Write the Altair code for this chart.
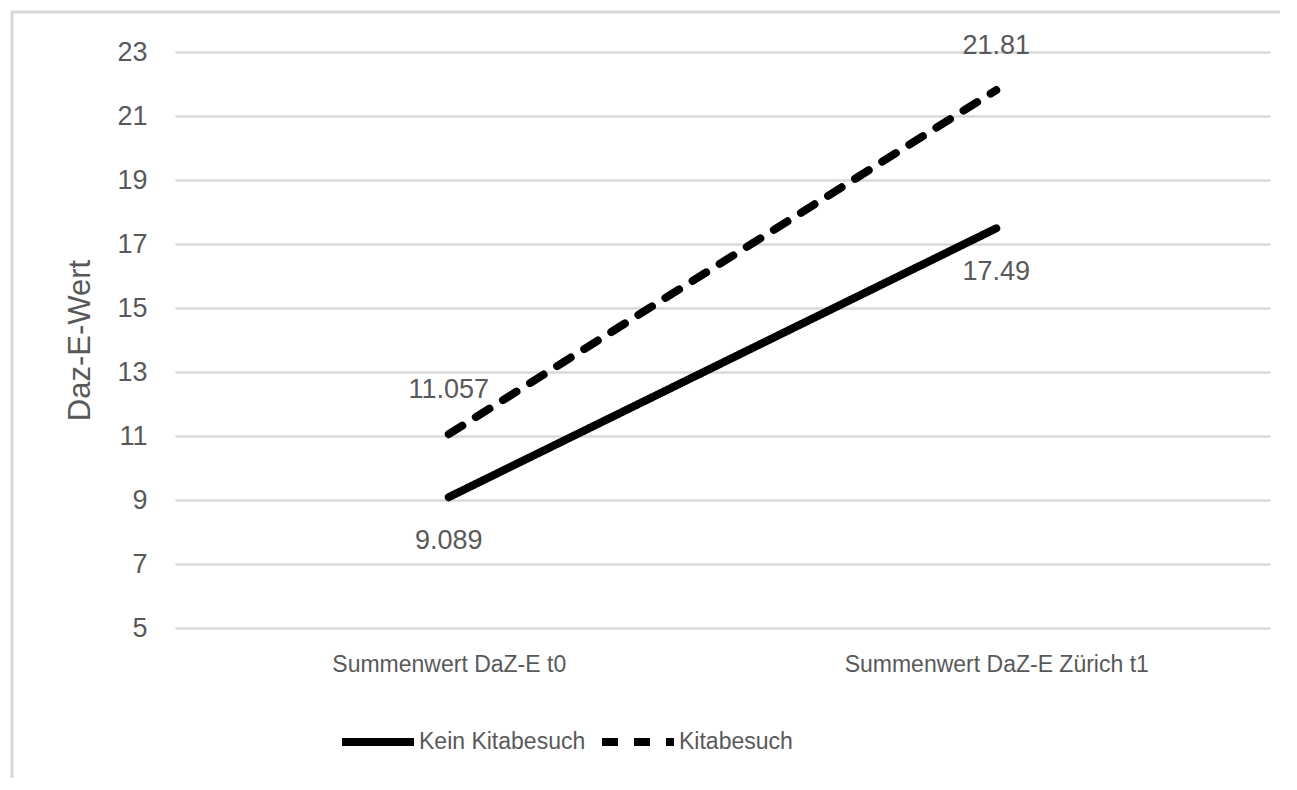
import altair as alt
import pandas as pd

categories = ["Summenwert DaZ-E t0", "Summenwert DaZ-E Zürich t1"]
series_names = ["Kein Kitabesuch", "Kitabesuch"]
kein_values = [9.089, 17.49]
kita_values = [11.057, 21.81]
kein_labels = ["9.089", "17.49"]
kita_labels = ["11.057", "21.81"]
y_ticks = [5, 7, 9, 11, 13, 15, 17, 19, 21, 23]

rows = []
for c, v, l in zip(categories, kein_values, kein_labels):
    rows.append({"category": c, "series": series_names[0], "value": v, "label": l})
for c, v, l in zip(categories, kita_values, kita_labels):
    rows.append({"category": c, "series": series_names[1], "value": v, "label": l})
df = pd.DataFrame(rows)

TEXT = "#595959"
GRID = "#d9d9d9"
NARROW = "Liberation Sans Narrow, Arial Narrow, Liberation Sans, sans-serif"
SANS = "Liberation Sans, Arial, sans-serif"

x_enc = alt.X(
    "category:N",
    sort=categories,
    scale=alt.Scale(type="point", padding=0.5),
    axis=alt.Axis(
        title=None, labelAngle=0, ticks=False, domain=False, grid=False,
        labelFont=NARROW, labelFontSize=23, labelColor=TEXT, labelPadding=25,
        labelLimit=0,
    ),
)
y_enc = alt.Y(
    "value:Q",
    scale=alt.Scale(domain=[5, 23], nice=False, zero=False),
    axis=alt.Axis(
        title="Daz-E-Wert", values=y_ticks, ticks=False, domain=False,
        grid=True, gridColor=GRID, gridWidth=2.5,
        labelFont=SANS, labelFontSize=27, labelColor=TEXT, labelPadding=28,
        titleFont=SANS, titleFontSize=31, titleFontWeight="normal", titleColor=TEXT,
        titleAngle=-90, titleX=-95, titleY=288, titleAlign="center", titleBaseline="middle",
    ),
)

base = alt.Chart(df)

lines = base.mark_line(strokeWidth=8, strokeCap="round", color="black").encode(
    x=x_enc,
    y=y_enc,
    strokeDash=alt.StrokeDash(
        "series:N",
        scale=alt.Scale(domain=series_names, range=[[1, 0], [16, 16]]),
        legend=alt.Legend(
            title=None, orient="none", direction="horizontal",
            legendX=163, legendY=650,
            symbolType="stroke", symbolSize=5184, symbolStrokeWidth=8,
            symbolStrokeColor="black",
            labelFont=NARROW, labelFontSize=23, labelColor=TEXT,
            labelOffset=1, columnPadding=0, labelLimit=0,
        ),
    ),
)

labels_above = base.transform_filter(
    alt.datum.series == series_names[1]
).mark_text(font=SANS, fontSize=27, color=TEXT, baseline="middle", dy=-44).encode(
    x=alt.X("category:N", sort=categories), y="value:Q", text="label:N"
)
labels_below = base.transform_filter(
    alt.datum.series == series_names[0]
).mark_text(font=SANS, fontSize=27, color=TEXT, baseline="middle", dy=44).encode(
    x=alt.X("category:N", sort=categories), y="value:Q", text="label:N"
)

border = alt.Chart(alt.Data(values=[{}])).mark_rect(
    fill=None, stroke=GRID, strokeWidth=3
).encode(
    x=alt.value(-163), x2=alt.value(1200), y=alt.value(-40), y2=alt.value(800)
)

chart = alt.layer(border, lines, labels_above, labels_below).properties(
    width=1095,
    height=576,
    padding={"left": 167, "top": 44, "right": 10, "bottom": 150},
    autosize=alt.AutoSizeParams(type="none"),
).configure_view(stroke=None)

chart.save("out.html", embed_options={"renderer": "svg", "actions": False})
